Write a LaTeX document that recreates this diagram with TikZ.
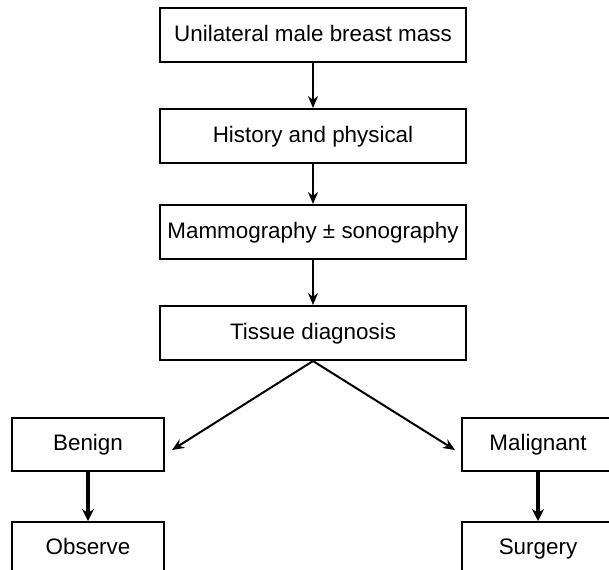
\documentclass[tikz,border=0pt]{standalone}
\usepackage{fontspec}
\setmainfont{Liberation Sans}
\usetikzlibrary{arrows.meta}

\begin{document}
\begin{tikzpicture}[x=0.5pt,y=-0.5pt,
    box/.style={draw,line width=1pt,minimum width=153pt,minimum height=27pt,
      inner sep=0pt,text height=1.6ex,text depth=.4ex,
      font=\fontsize{11.2}{13}\selectfont},
    sidebox/.style={box,minimum width=76pt,minimum height=26.5pt},
    arr/.style={-{Stealth[length=6pt,width=5pt]},line width=1pt},
    thickarr/.style={-{Stealth[length=6pt,width=6pt]},line width=1.6pt}]
  \useasboundingbox (0,0) rectangle (609,569);
  \clip (0,0) rectangle (609,569);
  \node[box] (mass) at (313,35) {Unilateral male breast mass};
  \node[box] (hist) at (313,136) {History and physical};
  \draw[arr] (mass) -- (hist);
  \node[box] (mammo) at (313,232) {Mammography ± sonography};
  \draw[arr] (hist) -- (mammo);
  \node[box] (tissue) at (313,333) {Tissue diagnosis};
  \draw[arr] (mammo) -- (tissue);
  %
  \node[sidebox] (benign) at (88,444.5) {Benign};
  \node[sidebox] (malig) at (538,444.5) {Malignant};
  \coordinate (benignin) at (172,450);
  \coordinate (maligin) at (455,450);
  \draw[arr] (tissue.south) -- (benignin);
  \draw[arr] (tissue.south) -- (maligin);
  %
  \node[sidebox] (observe) at (88,548.5) {Observe};
  \draw[thickarr] (benign) -- (observe);
  \node[sidebox] (surgery) at (538,548.5) {Surgery};
  \draw[thickarr] (malig) -- (surgery);
\end{tikzpicture}
\end{document}
